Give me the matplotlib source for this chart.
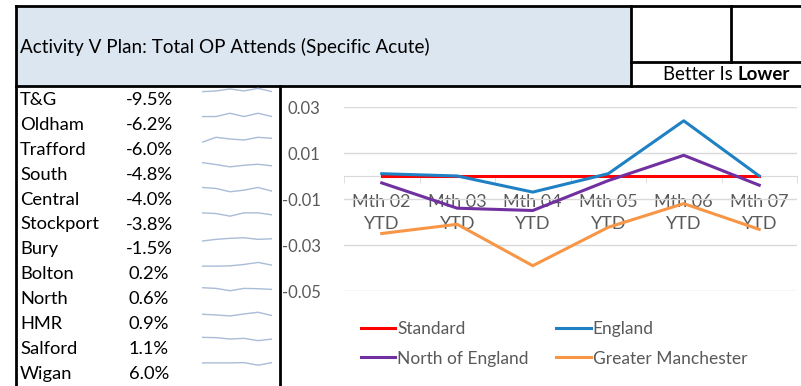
import matplotlib
matplotlib.use("Agg")
import matplotlib.pyplot as plt
from matplotlib.patches import Rectangle
import numpy as np

plt.rcParams["font.family"] = ["Lato", "DejaVu Sans"]

W, H = 801, 386

# ---- data ----
title = "Activity V Plan: Total OP Attends (Specific Acute)"
areas = ["T&G", "Oldham", "Trafford", "South", "Central", "Stockport",
         "Bury", "Bolton", "North", "HMR", "Salford", "Wigan"]
area_pct = ["-9.5%", "-6.2%", "-6.0%", "-4.8%", "-4.0%", "-3.8%",
            "-1.5%", "0.2%", "0.6%", "0.9%", "1.1%", "6.0%"]
# sparkline trends (relative)
spark = [
    [0, 0.7, 2.7, 0.7, 3.3, 0],
    [0, 0, 3.3, 0, 3.3, 0],
    [0, 5, 3.3, 2.3, 5, 4],
    [0, -2, -4.3, -2.7, -1.7, -3.3],
    [0, -1, -4.3, -2.7, 0, -3.7],
    [0, -0.7, -3.3, 0, 0, -2],
    [0, 1.7, 2.7, 3.3, 1.7, 2.3],
    [0, 0, 0.3, 1.7, 3.7, 1],
    [0, -0.7, -3, -0.7, -1, -1.7],
    [0, -0.7, -1.7, 0.3, 2, -1.3],
    [0, -0.3, -1.7, -1, -3.3, -1.7],
    [0, 0, 0, 0.3, -2.3, 0.3],
]

months = ["Mth 02\nYTD", "Mth 03\nYTD", "Mth 04\nYTD",
          "Mth 05\nYTD", "Mth 06\nYTD", "Mth 07\nYTD"]
standard = [0, 0, 0, 0, 0, 0]
england = [0.001, 0.0, -0.007, 0.001, 0.024, 0.0]
north_england = [-0.003, -0.014, -0.015, -0.002, 0.009, -0.004]
greater_manc = [-0.025, -0.021, -0.039, -0.0223, -0.012, -0.0232]
y_ticks = [0.03, 0.01, -0.01, -0.03, -0.05]


def box(x0, y0, x1, y1):
    # pixel box (top-left origin) -> figure fraction rect
    return [x0 / W, 1 - y1 / H, (x1 - x0) / W, (y1 - y0) / H]


fig = plt.figure(figsize=(W / 100, H / 100), dpi=100)

# background layer in pixel coordinates
bg = fig.add_axes([0, 0, 1, 1])
bg.set_xlim(0, W)
bg.set_ylim(H, 0)
bg.axis("off")

bg.add_patch(Rectangle((16, 6), 615, 80, facecolor="#dce6f1", edgecolor="none"))
lw = 2
bg.plot([16, W], [6, 6], color="black", lw=lw)
bg.plot([16, W], [86, 86], color="black", lw=lw)
bg.plot([631, W], [62, 62], color="black", lw=lw)
bg.plot([16, 16], [6, H], color="black", lw=lw)
bg.plot([631, 631], [6, 86], color="black", lw=lw)
bg.plot([731, 731], [6, 62], color="black", lw=lw)
bg.plot([280, 280], [86, H], color="black", lw=lw)

bg.text(20, 47, title, fontsize=13.6, va="center", ha="left", color="black")
lower = bg.text(790, 74, "Lower", fontsize=13.4, va="center", ha="right",
                fontweight="bold")
fig.canvas.draw()
lower_w = lower.get_window_extent().width
bg.text(790 - lower_w - 5, 74, "Better Is", fontsize=13.4, va="center", ha="right")

row_h = 24.9
for i, (name, pct) in enumerate(zip(areas, area_pct)):
    yc = 100 + i * row_h
    bg.text(20, yc, name, fontsize=13.2, va="center", ha="left")
    bg.text(149, yc, pct, fontsize=13.2, va="center", ha="center")

    vals = np.array(spark[i])
    sa = fig.add_axes(box(202, yc - 17, 272, yc - 3))
    sa.plot(range(len(vals)), vals, color="#a9bcd8", lw=1)
    mid = (vals.max() + vals.min()) / 2
    sa.set_ylim(mid - 7, mid + 7)
    sa.set_xlim(0, len(vals) - 1)
    sa.axis("off")

# ---- line chart ----
ax = fig.add_axes(box(344, 107, 797, 291))
x = np.arange(len(months))
ax.set_ylim(-0.05, 0.03)
ax.set_xlim(-0.5, len(months) - 0.5)
ax.set_yticks(y_ticks)
ax.set_yticklabels([f"{v:.2f}" for v in y_ticks])
ax.grid(axis="y", color="#d9d9d9", lw=1)
ax.set_axisbelow(True)
for s in ["top", "right", "left"]:
    ax.spines[s].set_visible(False)
ax.spines["bottom"].set_position(("data", 0))
ax.spines["bottom"].set_color("#d9d9d9")
ax.tick_params(axis="y", length=0, labelsize=12, labelcolor="#595959", pad=17)
ax.set_xticks(x)
ax.set_xticklabels(months, linespacing=1.45)
ax.set_xticks(np.arange(-0.5, len(months)), minor=True)
ax.tick_params(axis="x", which="major", length=0, labelsize=13,
               labelcolor="#595959", pad=13)
ax.tick_params(axis="x", which="minor", length=5, color="#d9d9d9")

ax.plot(x, standard, color="#ff0000", lw=2.2, label="Standard", zorder=3)
ax.plot(x, england, color="#1f80c4", lw=2.2, label="England", zorder=4)
ax.plot(x, north_england, color="#7030a0", lw=2.2, label="North of England", zorder=4)
ax.plot(x, greater_manc, color="#f79646", lw=2.2, label="Greater Manchester", zorder=4)

# row-major order for a 2-column legend
handles, labels = ax.get_legend_handles_labels()
order = [0, 2, 1, 3]
leg = fig.legend([handles[k] for k in order], [labels[k] for k in order],
                 ncol=2, frameon=False, fontsize=12.5,
                 loc="upper left", bbox_to_anchor=(345 / W, 1 - 305 / H),
                 handlelength=2.0, handletextpad=0.1, columnspacing=1.6,
                 labelspacing=0.8, labelcolor="#595959")

fig.savefig("out.png", dpi=100)
